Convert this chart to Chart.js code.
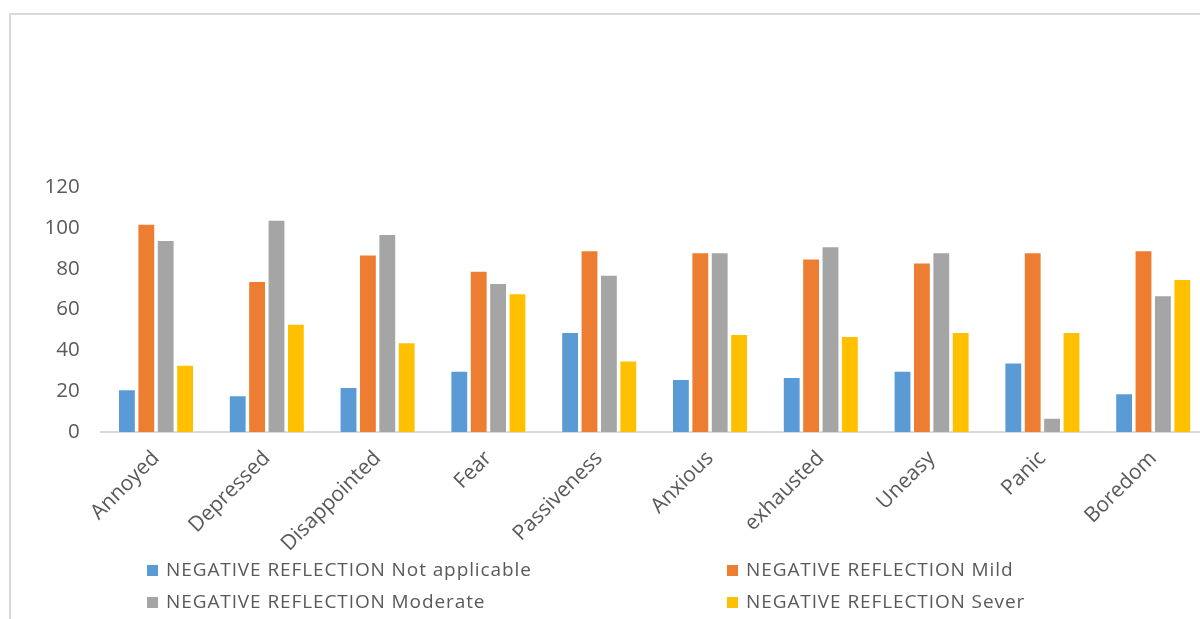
<!DOCTYPE html>
<html>
<head>
<meta charset="utf-8">
<script src="https://cdn.jsdelivr.net/npm/chart.js@4.4.1/dist/chart.umd.min.js"></script>
<style>
  html, body { margin: 0; padding: 0; background: #ffffff; }
  #page { position: relative; width: 1200px; height: 619px; overflow: hidden; background: #ffffff; }
  #frame { position: absolute; left: 9px; top: 13px; width: 1300px; height: 700px;
           border-top: 2px solid #d9d9d9; border-left: 2px solid #d9d9d9; box-sizing: border-box; }
  #wrap { position: absolute; left: 0; top: 0; width: 1215px; height: 619px; }
  #legend { position: absolute; left: 0; top: 0; width: 1200px; height: 619px; pointer-events: none;
            font-family: "Open Sans", sans-serif; font-size: 19px; letter-spacing: 0.9px; color: #595959; }
  .item { position: absolute; white-space: nowrap; line-height: 22px; }
  .swatch { position: absolute; width: 11px; height: 11px; }
</style>
</head>
<body>
<div id="page">
  <div id="frame"></div>
  <div id="wrap"><canvas id="chart"></canvas></div>
  <div id="legend"></div>
</div>
<script>
// Emotion categories along the x axis
const categories = ['Annoyed', 'Depressed', 'Disappointed', 'Fear', 'Passiveness',
                    'Anxious', 'exhausted', 'Uneasy', 'Panic', 'Boredom'];

// Response counts per severity level
const notApplicable = [21, 18, 22, 30, 49, 26, 27, 30, 34, 19];
const mild          = [102, 74, 87, 79, 89, 88, 85, 83, 88, 89];
const moderate      = [94, 104, 97, 73, 77, 88, 91, 88, 7, 67];
const sever         = [33, 53, 44, 68, 35, 48, 47, 49, 49, 75];

const seriesNames = ['NEGATIVE REFLECTION Not applicable', 'NEGATIVE REFLECTION Mild',
                     'NEGATIVE REFLECTION Moderate', 'NEGATIVE REFLECTION Sever'];
const seriesColors = ['#5B9BD5', '#ED7D31', '#A5A5A5', '#FFC000'];

// Value axis ticks
const yTicks = [0, 20, 40, 60, 80, 100, 120];

const textColor = '#595959';
const fontFamily = '"Open Sans", sans-serif';

const seriesValues = [notApplicable, mild, moderate, sever];
const datasets = seriesValues.map((vals, i) => ({
  label: seriesNames[i],
  data: vals,
  backgroundColor: seriesColors[i],
  borderColor: 'rgba(255,255,255,0.6)',
  borderWidth: 1,
  categoryPercentage: 0.7,
  barPercentage: 0.92
}));

new Chart(document.getElementById('chart'), {
  type: 'bar',
  data: { labels: categories, datasets: datasets },
  options: {
    responsive: true,
    maintainAspectRatio: false,
    animation: false,
    layout: { padding: { top: 187, right: 6.4, bottom: 0, left: 0 } },
    plugins: { legend: { display: false }, tooltip: { enabled: false } },
    scales: {
      x: {
        grid: { display: false, drawTicks: false },
        border: { display: true, color: '#d9d9d9', width: 2 },
        ticks: {
          color: textColor,
          font: { family: fontFamily, size: 21 },
          minRotation: 45, maxRotation: 45,
          padding: 14,
          autoSkip: false
        },
        afterFit: (scale) => { scale.height = 187; }
      },
      y: {
        min: yTicks[0],
        max: yTicks[yTicks.length - 1],
        afterBuildTicks: (scale) => { scale.ticks = yTicks.map(v => ({ value: v })); },
        grid: { display: false, drawTicks: false },
        border: { display: false },
        ticks: {
          color: textColor,
          font: { family: fontFamily, size: 20.5 },
          padding: 21
        },
        afterFit: (scale) => { scale.width = 100.6; }
      }
    }
  }
});

// Two-column legend beneath the plot
const legendEl = document.getElementById('legend');
const legendCols = [147, 727];
const legendRows = [570, 602];
seriesNames.forEach((name, i) => {
  const x = legendCols[i % 2];
  const y = legendRows[Math.floor(i / 2)];
  const sw = document.createElement('div');
  sw.className = 'swatch';
  sw.style.left = x + 'px';
  sw.style.top = (y - 5.5) + 'px';
  sw.style.background = seriesColors[i];
  legendEl.appendChild(sw);
  const tx = document.createElement('div');
  tx.className = 'item';
  tx.style.left = (x + 19) + 'px';
  tx.style.top = (y - 12) + 'px';
  tx.textContent = name;
  legendEl.appendChild(tx);
});
</script>
</body>
</html>
